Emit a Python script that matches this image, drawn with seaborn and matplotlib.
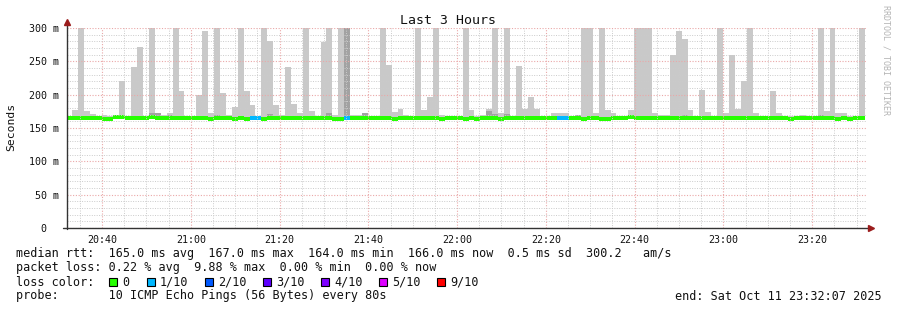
import matplotlib
matplotlib.use("Agg")
import numpy as np
import pandas as pd
import seaborn as sns
import matplotlib.pyplot as plt
from matplotlib.patches import Rectangle
from matplotlib.lines import Line2D
from matplotlib.ticker import FixedLocator, MultipleLocator

# ---------------- data ----------------
# x in minutes after 20:00; one step every 80 s
first_step_start = 31.907          # 20:31:54
step_minutes = 80 / 60.0
x_start, x_end = 32.117, 212.117   # 20:32:07 .. 23:32:07

rtt_max = [
    168, 177, 300, 175, 171, 168, 170, 168, 167, 220,
    167, 242, 272, 168, 300, 172, 170, 172, 300, 205,
    168, 168, 199, 295, 172, 300, 202, 170, 181, 300,
    205, 184, 168, 300, 280, 184, 170, 242, 186, 172,
    300, 175, 168, 279, 300, 170, 300, 300, 170, 170,
    172, 168, 167, 300, 244, 174, 178, 170, 168, 300,
    177, 196, 300, 170, 168, 168, 168, 300, 177, 168,
    170, 179, 300, 172, 300, 168, 243, 178, 197, 178,
    168, 168, 172, 172, 172, 168, 170, 300, 300, 172,
    300, 177, 173, 168, 168, 177, 300, 300, 300, 172,
    170, 170, 260, 295, 284, 177, 168, 207, 174, 168,
    300, 172, 259, 178, 221, 300, 173, 168, 168, 205,
    173, 168, 168, 168, 170, 168, 168, 300, 175, 300,
    172, 172, 168, 168, 300,
]

rtt_second = [
    167, 167, 167, 167, 167, 167, 166, 166, 168, 168,
    167, 167, 167, 167, 172, 172, 167, 170, 167, 167,
    167, 167, 167, 167, 166, 170, 167, 167, 166, 167,
    166, 167, 167, 166, 171, 167, 167, 167, 167, 167,
    167, 167, 167, 167, 173, 166, 166, 300, 167, 167,
    173, 167, 167, 167, 167, 166, 167, 167, 167, 167,
    167, 167, 167, 166, 167, 167, 167, 166, 167, 166,
    167, 175, 171, 166, 171, 167, 167, 167, 167, 167,
    167, 167, 167, 167, 167, 167, 170, 166, 167, 167,
    166, 166, 167, 167, 167, 168, 167, 167, 167, 167,
    167, 167, 167, 167, 170, 167, 167, 167, 167, 167,
    167, 167, 167, 167, 167, 167, 167, 167, 167, 167,
    167, 167, 166, 167, 167, 167, 167, 170, 167, 167,
    166, 167, 166, 167, 167,
]

rtt_median = [
    165, 165, 165, 165, 165, 165, 163.5, 163.5, 166.5, 166.5,
    165, 165, 165, 165, 166.5, 165, 165, 165, 165, 165,
    165, 165, 165, 165, 163.5, 165, 165, 165, 163.5, 165,
    163.5, 165, 165, 163.5, 165, 165, 165, 165, 165, 165,
    165, 165, 165, 165, 165, 163.5, 163.5, 165, 165, 165,
    165, 165, 165, 165, 165, 163.5, 165, 165, 165, 165,
    165, 165, 165, 163.5, 165, 165, 165, 163.5, 165, 163.5,
    165, 165, 165, 163.5, 165, 165, 165, 165, 165, 165,
    165, 165, 165, 165, 165, 165, 165, 163.5, 165, 165,
    163.5, 163.5, 165, 165, 165, 166.5, 165, 165, 165, 165,
    165, 165, 165, 165, 165, 165, 165, 165, 165, 165,
    165, 165, 165, 165, 165, 165, 165, 165, 165, 165,
    165, 165, 163.5, 165, 165, 165, 165, 165, 165, 165,
    163.5, 165, 163.5, 165, 165,
]

rtt_min = [
    163, 163, 163, 163, 163, 163, 161.5, 161.5, 164.5, 164.5,
    163, 163, 163, 163, 164.5, 163, 163, 163, 163, 163,
    163, 163, 163, 163, 161.5, 163, 163, 163, 161.5, 163,
    161.5, 163, 163, 161.5, 163, 163, 163, 163, 163, 163,
    163, 163, 163, 163, 163, 161.5, 161.5, 163, 163, 163,
    163, 163, 163, 163, 163, 161.5, 163, 163, 163, 163,
    163, 163, 163, 161.5, 163, 163, 163, 161.5, 163, 161.5,
    163, 163, 163, 161.5, 163, 163, 163, 163, 163, 163,
    163, 163, 163, 163, 163, 163, 163, 161.5, 163, 163,
    161.5, 161.5, 163, 163, 163, 164.5, 163, 163, 163, 163,
    163, 163, 163, 163, 163, 163, 163, 163, 163, 163,
    163, 163, 163, 163, 163, 163, 163, 163, 163, 163,
    163, 163, 161.5, 163, 163, 163, 163, 163, 163, 163,
    161.5, 163, 161.5, 163, 163,
]

loss = [0] * 135
for i in (31, 32, 47, 83, 84):
    loss[i] = 1

loss_levels = ["0", "1/10", "2/10", "3/10", "4/10", "5/10", "9/10"]
loss_palette = ["#26ff00", "#00b8ff", "#0059ff", "#5e00ff", "#7e00ff", "#dd00ff", "#ff0000"]

y_ticks = [0, 50, 100, 150, 200, 250, 300]
y_tick_labels = ["0  ", "50 m", "100 m", "150 m", "200 m", "250 m", "300 m"]
x_ticks = [40, 60, 80, 100, 120, 140, 160, 180, 200]
x_tick_labels = ["20:40", "21:00", "21:20", "21:40", "22:00", "22:20", "22:40", "23:00", "23:20"]

# ---------------- figure ----------------
sns.set_theme(style="white")
MONO = "DejaVu Sans Mono"
plt.rcParams["font.family"] = [MONO, "DejaVu Sans"]

W, H = 897, 310
fig = plt.figure(figsize=(W / 100, H / 100), dpi=100)
fig.patch.set_facecolor("white")

def fx(px):
    return px / W

def fy(py):
    return 1 - py / H

L, R, T, B = 67, 866, 28, 228
ax = fig.add_axes([fx(L), fy(B), (R - L) / W, (B - T) / H])
ax.set_facecolor("white")

df = pd.DataFrame({
    "start": first_step_start + step_minutes * np.arange(len(rtt_max)),
    "max": rtt_max, "second": rtt_second, "median": rtt_median,
    "min": rtt_min, "loss": loss,
})

# smoke
ax.bar(df["start"], df["max"] - df["min"], bottom=df["min"], width=step_minutes,
       align="edge", color="#c9c9c9", linewidth=0, zorder=1)
ax.bar(df["start"], df["second"] - df["min"], bottom=df["min"], width=step_minutes,
       align="edge", color="#a2a2a2", linewidth=0, zorder=1.1)
# median marker coloured by loss
band = 4.8
ax.bar(df["start"], band, bottom=df["median"] - band / 2, width=step_minutes,
       align="edge", color=[loss_palette[v] for v in df["loss"]], linewidth=0, zorder=1.2)

ax.set_xlim(x_start, x_end)
ax.set_ylim(0, 300)

# grid
ax.xaxis.set_major_locator(FixedLocator(x_ticks))
ax.xaxis.set_minor_locator(MultipleLocator(5))
ax.yaxis.set_major_locator(FixedLocator(y_ticks))
ax.yaxis.set_minor_locator(MultipleLocator(10))
ax.set_axisbelow(False)
ax.grid(which="minor", color="#cbcbcb", linestyle=(0, (1, 1.5)), linewidth=0.7, zorder=3)
ax.grid(which="major", color="#eaa8a8", linestyle=(0, (1, 1.5)), linewidth=0.8, zorder=3)

ax.set_xticklabels(x_tick_labels)
ax.set_yticklabels(y_tick_labels)
for lab in ax.get_xticklabels() + ax.get_yticklabels():
    lab.set_fontfamily(MONO)
    lab.set_fontsize(7.2)
    lab.set_color("#111111")
ax.tick_params(axis="both", which="both", length=0)
ax.tick_params(axis="y", pad=6)
ax.tick_params(axis="x", pad=5)

for s in ax.spines.values():
    s.set_visible(False)

# axes lines with arrows
fig.add_artist(Line2D([fx(L), fx(L)], [fy(B + 1), fy(T - 5)], color="#333333", lw=1))
fig.add_artist(Line2D([fx(L - 4), fx(R + 4)], [fy(B), fy(B)], color="#333333", lw=1))
fig.add_artist(Line2D([fx(L)], [fy(T - 6)], marker="^", markersize=4.5,
                      color="#9b1c1c", linestyle="none"))
fig.add_artist(Line2D([fx(R + 5)], [fy(B)], marker=">", markersize=4.5,
                      color="#9b1c1c", linestyle="none"))

# titles
fig.text(fx(448), fy(20), "Last 3 Hours", ha="center", va="center",
         fontsize=9.5, family=MONO, color="#111111")
fig.text(fx(11), fy(127), "Seconds", ha="center", va="center", rotation=90,
         fontsize=8.2, family=MONO, color="#111111")
fig.text(fx(886), fy(60), "RRDTOOL / TOBI OETIKER", ha="center", va="center",
         rotation=270, fontsize=6, family=MONO, color="#b4b4b4")

# legend rows
FS = 8.5
fig.text(fx(16), fy(254),
         "median rtt:  165.0 ms avg  167.0 ms max  164.0 ms min  166.0 ms now  0.5 ms sd  300.2   am/s",
         ha="left", va="center", fontsize=FS, family=MONO, color="#111111")
fig.text(fx(16), fy(268),
         "packet loss: 0.22 % avg  9.88 % max  0.00 % min  0.00 % now",
         ha="left", va="center", fontsize=FS, family=MONO, color="#111111")
fig.text(fx(16), fy(282), "loss color:", ha="left", va="center",
         fontsize=FS, family=MONO, color="#111111")
box_x = [109, 147, 205, 263, 321, 379, 437]
for bx, lab, col in zip(box_x, loss_levels, loss_palette):
    fig.patches.append(Rectangle((fx(bx), fy(286)), 8 / W, 8 / H, transform=fig.transFigure,
                                 facecolor=col, edgecolor="black", linewidth=0.8))
    fig.text(fx(bx + 13), fy(282), lab, ha="left", va="center",
             fontsize=FS, family=MONO, color="#111111")
fig.text(fx(16), fy(296), "probe:       10 ICMP Echo Pings (56 Bytes) every 80s",
         ha="left", va="center", fontsize=FS, family=MONO, color="#111111")
fig.text(fx(882), fy(296), "end: Sat Oct 11 23:32:07 2025", ha="right", va="center",
         fontsize=FS, family=MONO, color="#111111")

fig.savefig("out.png", dpi=100, facecolor="white")
